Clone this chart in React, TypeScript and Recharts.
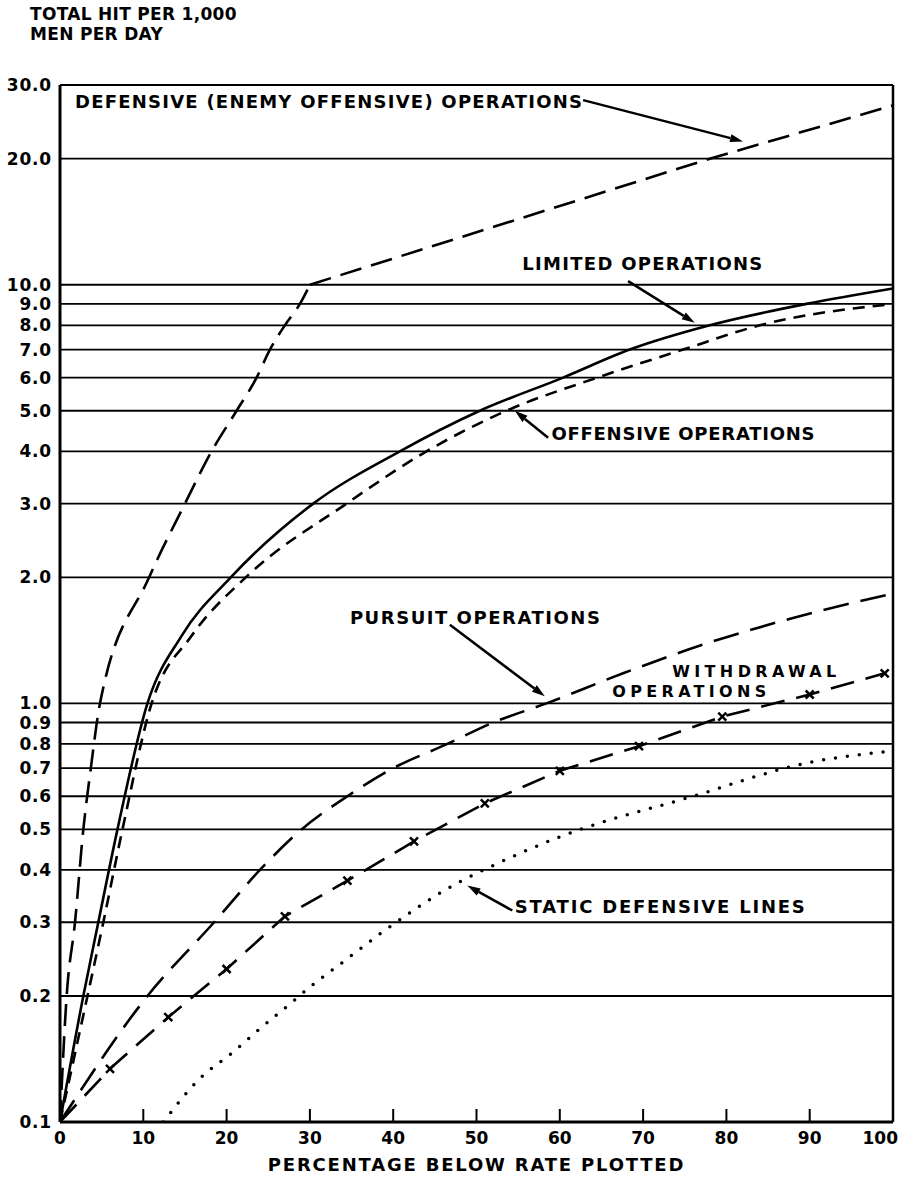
import React from 'react';
import { LineChart, Line, XAxis, YAxis, CartesianGrid, ReferenceLine, ReferenceDot } from 'recharts';

// values (x = percentage below rate, y = hits per 1,000 men per day)
// defensive curve: rising part up to the corner at 30 %, then the straight part
const defensiveLowX = [0, 0.8, 1.8, 2.8, 3.7, 4.8, 10.7, 15, 18.2, 21.2, 23.6, 25.2, 27, 28.8, 30];
const defensiveLowY = [0.1, 0.2, 0.3, 0.5, 0.7, 1.0, 2.0, 3.0, 4.0, 5.0, 6.0, 7.0, 8.0, 9.0, 10];
const defensiveHighX = [30, 78, 100];
const defensiveHighY = [10, 20, 26.8];

const limitedX = [0, 2.8, 4.6, 6.9, 10.5, 14.6, 20.5, 30.4, 40.8, 50.4, 60.4, 68.4, 78, 89.6, 100];
const limitedY = [0.1, 0.2, 0.3, 0.5, 1.0, 1.45, 2, 3, 4, 5, 6, 7, 8, 9, 9.8];

const offensiveX = [0, 3.3, 5.2, 7.5, 11, 15.8, 22.3, 34.4, 44, 53.6, 64.5, 74.8, 84, 100];
const offensiveY = [0.1, 0.2, 0.3, 0.5, 1.0, 1.45, 2, 3, 4, 5, 6, 7, 8, 9];

const pursuitX = [0, 10.5, 18.5, 24, 29, 34.5, 40, 46.5, 52, 58.4, 67.6, 77.6, 88, 100];
const pursuitY = [0.1, 0.2, 0.3, 0.4, 0.5, 0.6, 0.7, 0.8, 0.9, 1.0, 1.18, 1.39, 1.6, 1.83];

const withdrawalX = [0, 6, 13, 20, 27, 34.5, 42.5, 51, 60, 69.5, 79.5, 90, 99];
const withdrawalY = [0.1, 0.134, 0.178, 0.232, 0.31, 0.377, 0.468, 0.577, 0.69, 0.79, 0.93, 1.05, 1.18];

const staticX = [12.4, 16.8, 20.8, 24, 27.4, 30, 34.2, 38.8, 48, 52, 60, 76, 89.6, 100];
const staticY = [0.1, 0.127, 0.147, 0.167, 0.19, 0.21, 0.243, 0.285, 0.375, 0.41, 0.48, 0.6, 0.72, 0.77];

const xTicks = [0, 10, 20, 30, 40, 50, 60, 70, 80, 90, 100];
const yTicks = [0.1, 0.2, 0.3, 0.4, 0.5, 0.6, 0.7, 0.8, 0.9, 1, 2, 3, 4, 5, 6, 7, 8, 9, 10, 20, 30];

const toPoints = (xs: number[], ys: number[]) => xs.map((x, i) => ({ x, y: ys[i] }));

// labels and pointer arrows, anchored in data coordinates
const labels = [
  { text: 'DEFENSIVE (ENEMY OFFENSIVE) OPERATIONS', x: 1.8, y: 26.4, w: 507, size: 18 },
  { text: 'LIMITED OPERATIONS', x: 55.5, y: 10.86, w: 240, size: 18 },
  { text: 'OFFENSIVE OPERATIONS', x: 59, y: 4.26, w: 263, size: 18 },
  { text: 'PURSUIT OPERATIONS', x: 34.8, y: 1.55, w: 250, size: 18 },
  { text: 'WITHDRAWAL', x: 73.5, y: 1.154, w: 164, size: 16 },
  { text: 'OPERATIONS', x: 66.3, y: 1.034, w: 154, size: 16 },
  { text: 'STATIC DEFENSIVE LINES', x: 54.6, y: 0.315, w: 290, size: 18 },
];

const arrows = [
  [{ x: 62.8, y: 27.6 }, { x: 82, y: 22 }],
  [{ x: 68.2, y: 10.2 }, { x: 76.2, y: 8.11 }],
  [{ x: 58.6, y: 4.31 }, { x: 54.6, y: 5.0 }],
  [{ x: 46.8, y: 1.54 }, { x: 58.2, y: 1.04 }],
  [{ x: 54.3, y: 0.32 }, { x: 48.9, y: 0.367 }],
];

const FONT = '"DejaVu Sans", sans-serif';

const ArrowShape = (p: any) => {
  const { x1, y1, x2, y2 } = p;
  const ang = Math.atan2(y2 - y1, x2 - x1);
  const L = 13;
  const W = 4;
  const bx = x2 - L * Math.cos(ang);
  const by = y2 - L * Math.sin(ang);
  const px = -Math.sin(ang) * W;
  const py = Math.cos(ang) * W;
  return (
    <g>
      <line x1={x1} y1={y1} x2={bx} y2={by} stroke="#000" strokeWidth={2.5} />
      <polygon points={`${x2},${y2} ${bx + px},${by + py} ${bx - px},${by - py}`} fill="#000" />
    </g>
  );
};

const XTick = (props: any) => {
  const { x, y, payload } = props;
  const v = payload.value;
  return (
    <g>
      {v > 0 && v < 100 && <line x1={x} x2={x} y1={y} y2={y - 13} stroke="#000" strokeWidth={2} />}
      <text
        x={v === 100 ? x + 5 : x}
        y={y + 22}
        textAnchor={v === 100 ? 'end' : 'middle'}
        fontFamily={FONT}
        fontWeight="bold"
        fontSize={17}
        fill="#000"
      >
        {v}
      </text>
    </g>
  );
};

const XMarkDot = (props: any) => {
  const { cx, cy, index } = props;
  if (index === 0 || cx == null) return <g key={`wd-${index}`} />;
  const s = 4;
  return (
    <g key={`wd-${index}`}>
      <line x1={cx - s} y1={cy - s} x2={cx + s} y2={cy + s} stroke="#000" strokeWidth={2.5} />
      <line x1={cx - s} y1={cy + s} x2={cx + s} y2={cy - s} stroke="#000" strokeWidth={2.5} />
    </g>
  );
};

export default function App() {
  return (
    <div style={{ position: 'absolute', left: 0, top: 0, width: 900, height: 1178, background: '#fff' }}>
      <div
        style={{
          position: 'absolute',
          left: 30,
          top: 4,
          fontFamily: FONT,
          fontWeight: 'bold',
          fontSize: 17,
          lineHeight: '20px',
          letterSpacing: 0.3,
          color: '#000',
        }}
      >
        TOTAL HIT PER 1,000
        <br />
        MEN PER DAY
      </div>
      <LineChart width={900} height={1178} margin={{ top: 85, right: 7, bottom: 0, left: 0 }}>
        <CartesianGrid vertical={false} stroke="#000" strokeWidth={1.8} />
        <XAxis
          type="number"
          dataKey="x"
          domain={[0, 100]}
          ticks={xTicks}
          interval={0}
          allowDataOverflow
          height={56}
          tickSize={0}
          tickMargin={0}
          tickLine={false}
          axisLine={{ stroke: '#000', strokeWidth: 3 }}
          tick={<XTick />}
          label={{
            value: 'PERCENTAGE BELOW RATE PLOTTED',
            position: 'insideBottom',
            offset: 7,
            fill: '#000',
            fontFamily: FONT,
            fontWeight: 'bold',
            fontSize: 18,
            letterSpacing: 1.8,
          }}
        />
        <YAxis
          type="number"
          scale="log"
          domain={[0.1, 30]}
          ticks={yTicks}
          interval={0}
          allowDataOverflow
          width={60}
          tickLine={false}
          axisLine={{ stroke: '#000', strokeWidth: 3 }}
          tickFormatter={(v: number) => v.toFixed(1)}
          tick={{ fill: '#000', fontFamily: FONT, fontWeight: 'bold', fontSize: 17, letterSpacing: 0.8 }}
        />
        <ReferenceLine x={100} stroke="#000" strokeWidth={2.5} />

        <Line data={toPoints(defensiveLowX, defensiveLowY)} dataKey="y" type="monotone" stroke="#000" strokeWidth={2.6}
          strokeDasharray="22 10" dot={false} isAnimationActive={false} />
        <Line data={toPoints(defensiveHighX, defensiveHighY)} dataKey="y" type="linear" stroke="#000" strokeWidth={2.6}
          strokeDasharray="22 10" dot={false} isAnimationActive={false} />
        <Line data={toPoints(limitedX, limitedY)} dataKey="y" type="monotone" stroke="#000" strokeWidth={2.6}
          dot={false} isAnimationActive={false} />
        <Line data={toPoints(offensiveX, offensiveY)} dataKey="y" type="monotone" stroke="#000" strokeWidth={2.6}
          strokeDasharray="12 8" dot={false} isAnimationActive={false} />
        <Line data={toPoints(pursuitX, pursuitY)} dataKey="y" type="monotone" stroke="#000" strokeWidth={2.6}
          strokeDasharray="26 12" dot={false} isAnimationActive={false} />
        <Line data={toPoints(withdrawalX, withdrawalY)} dataKey="y" type="linear" stroke="#000" strokeWidth={2.6}
          strokeDasharray="24 12" dot={<XMarkDot />} isAnimationActive={false} />
        <Line data={toPoints(staticX, staticY)} dataKey="y" type="monotone" stroke="#000" strokeWidth={3.5}
          strokeLinecap="round" strokeDasharray="0 12" dot={false} isAnimationActive={false} />

        {arrows.map((seg, i) => (
          <ReferenceLine key={`arrow-${i}`} segment={seg} ifOverflow="visible" shape={(p: any) => <ArrowShape {...p} />} />
        ))}
        {labels.map((l, i) => (
          <ReferenceDot
            key={`label-${i}`}
            x={l.x}
            y={l.y}
            r={0}
            ifOverflow="visible"
            shape={(p: any) => (
              <text
                x={p.cx}
                y={p.cy}
                textLength={l.w}
                lengthAdjust="spacing"
                fontFamily={FONT}
                fontWeight="bold"
                fontSize={l.size}
                fill="#000"
              >
                {l.text}
              </text>
            )}
          />
        ))}
      </LineChart>
    </div>
  );
}
